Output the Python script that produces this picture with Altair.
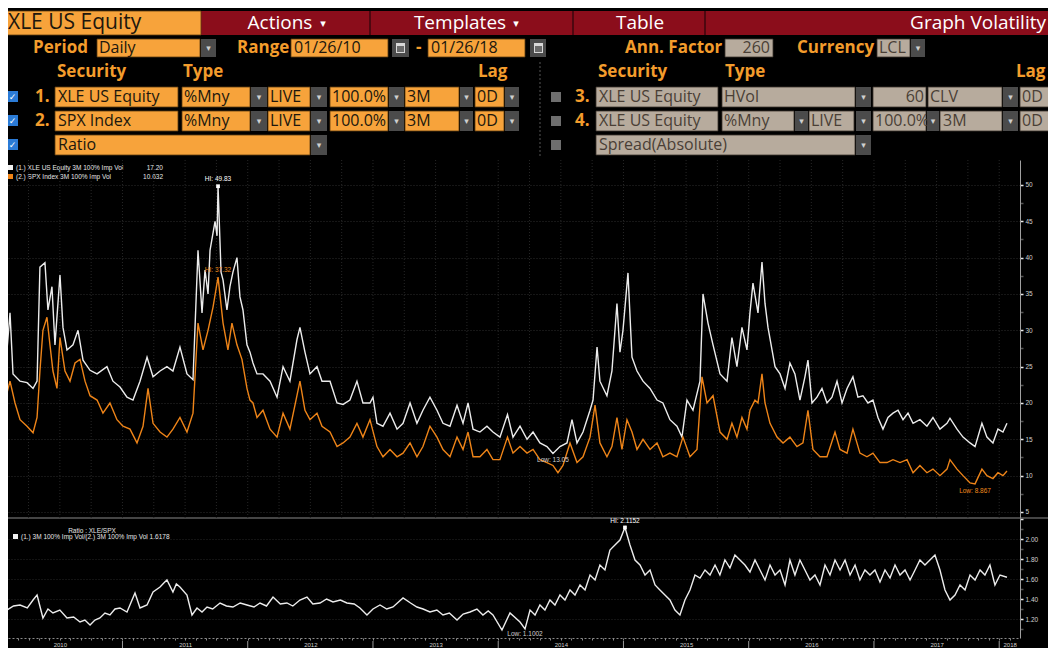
import altair as alt
import pandas as pd

# ---------------- data ----------------
# decimal year, value
xle_pts = [
 (2010.078,27.3),(2010.102,32.4),(2010.126,24.0),(2010.182,23.0),(2010.238,22.8),(2010.286,22.0),(2010.318,23.0),(2010.341,38.7),(2010.381,39.3),(2010.405,32.8),(2010.437,36.0),(2010.461,28.0),(2010.501,37.6),(2010.525,30.4),(2010.557,27.3),(2010.605,28.0),(2010.645,30.0),(2010.685,25.9),(2010.741,24.5),(2010.797,24.0),(2010.876,25.0),(2010.924,23.0),(2010.980,22.2),
 (2011.036,20.8),(2011.084,20.4),(2011.140,23.0),(2011.196,26.3),(2011.244,23.6),(2011.300,24.4),(2011.355,25.0),(2011.403,24.4),(2011.459,27.7),(2011.515,24.0),(2011.563,23.2),(2011.603,41.0),(2011.635,32.4),(2011.659,38.3),(2011.683,35.0),(2011.699,41.0),(2011.739,45.0),(2011.755,43.0),(2011.763,49.83),(2011.787,38.0),(2011.803,36.9),(2011.834,32.8),(2011.858,36.0),(2011.882,38.0),(2011.914,40.0),(2011.938,34.6),(2011.962,32.8),(2011.994,28.0),
 (2012.018,27.0),(2012.042,25.5),(2012.074,24.0),(2012.122,24.0),(2012.178,23.0),(2012.234,20.8),(2012.282,25.0),(2012.337,23.0),(2012.393,28.7),(2012.417,30.4),(2012.457,27.0),(2012.497,24.0),(2012.553,25.0),(2012.593,23.0),(2012.657,23.0),(2012.713,20.0),(2012.761,19.8),(2012.816,20.4),(2012.872,23.0),(2012.920,20.0),(2012.976,20.0),
 (2013.000,20.8),(2013.032,17.2),(2013.080,16.8),(2013.136,18.6),(2013.192,16.4),(2013.240,17.2),(2013.296,20.0),(2013.351,17.2),(2013.399,19.0),(2013.455,20.8),(2013.511,19.0),(2013.559,17.2),(2013.615,16.8),(2013.671,19.7),(2013.719,17.2),(2013.759,20.0),(2013.799,16.4),(2013.854,16.0),(2013.910,16.8),(2013.958,16.0),
 (2014.014,15.3),(2014.074,18.4),(2014.118,15.3),(2014.174,16.8),(2014.230,15.0),(2014.278,16.0),(2014.333,14.5),(2014.389,14.0),(2014.437,13.05),(2014.493,14.0),(2014.549,14.5),(2014.589,17.7),(2014.629,14.5),(2014.677,16.0),(2014.733,19.0),(2014.757,20.4),(2014.789,27.7),(2014.812,23.0),(2014.868,21.0),(2014.908,24.4),(2014.948,33.7),(2014.972,27.0),(2014.996,30.0),
 (2015.036,37.9),(2015.068,26.3),(2015.108,24.4),(2015.156,23.0),(2015.212,22.0),(2015.268,20.4),(2015.315,20.0),(2015.371,17.7),(2015.427,16.8),(2015.467,15.3),(2015.507,20.4),(2015.555,19.0),(2015.611,23.0),(2015.635,35.0),(2015.675,31.0),(2015.715,28.0),(2015.771,24.0),(2015.827,23.0),(2015.866,29.0),(2015.906,25.0),(2015.946,30.4),(2015.986,27.3),
 (2016.010,32.4),(2016.034,36.5),(2016.074,32.4),(2016.106,39.4),(2016.130,33.7),(2016.154,30.4),(2016.186,27.3),(2016.210,25.0),(2016.250,24.0),(2016.290,22.0),(2016.329,25.5),(2016.369,24.0),(2016.409,20.4),(2016.449,23.6),(2016.473,25.9),(2016.505,20.0),(2016.545,20.8),(2016.585,22.0),(2016.625,20.0),(2016.665,20.8),(2016.705,23.0),(2016.745,20.0),(2016.785,22.0),(2016.832,23.6),(2016.872,20.8),(2016.912,21.0),(2016.952,20.0),(2016.992,20.4),
 (2017.032,18.0),(2017.072,16.4),(2017.112,18.0),(2017.152,18.6),(2017.192,19.0),(2017.232,17.7),(2017.272,18.6),(2017.312,17.2),(2017.367,17.7),(2017.423,16.8),(2017.471,18.0),(2017.527,16.4),(2017.583,17.2),(2017.607,17.9),(2017.663,16.4),(2017.711,15.3),(2017.767,14.5),(2017.807,14.0),(2017.862,17.2),(2017.902,15.3),(2017.950,14.5),(2017.990,16.4),(2018.030,16.0),(2018.062,17.2),
]

spx_pts = [
 (2010.078,21.4),(2010.102,23.0),(2010.142,20.0),(2010.182,17.7),(2010.238,16.8),(2010.286,15.9),(2010.318,18.0),(2010.341,24.4),(2010.365,30.0),(2010.397,31.8),(2010.421,28.0),(2010.445,24.4),(2010.477,22.0),(2010.501,29.0),(2010.541,24.4),(2010.581,23.0),(2010.621,25.5),(2010.661,26.0),(2010.701,23.0),(2010.741,21.0),(2010.797,20.4),(2010.844,18.6),(2010.900,20.0),(2010.956,17.7),
 (2011.004,16.8),(2011.060,16.4),(2011.116,14.5),(2011.164,16.8),(2011.204,22.0),(2011.244,17.2),(2011.300,16.0),(2011.355,15.3),(2011.403,16.4),(2011.459,18.0),(2011.515,16.0),(2011.563,18.6),(2011.603,31.0),(2011.643,27.3),(2011.683,30.0),(2011.723,33.2),(2011.763,37.32),(2011.803,31.0),(2011.842,27.3),(2011.874,31.0),(2011.914,28.0),(2011.954,26.0),(2011.994,22.0),
 (2012.018,20.4),(2012.042,20.0),(2012.074,18.0),(2012.122,19.0),(2012.178,16.4),(2012.234,15.3),(2012.282,18.6),(2012.337,16.4),(2012.393,21.0),(2012.417,23.0),(2012.457,19.0),(2012.497,17.7),(2012.553,18.6),(2012.593,16.8),(2012.657,16.0),(2012.713,14.0),(2012.761,14.5),(2012.816,15.3),(2012.872,17.2),(2012.920,15.3),(2012.976,17.7),
 (2013.032,14.0),(2013.080,12.6),(2013.136,13.6),(2013.192,12.6),(2013.240,13.1),(2013.296,14.5),(2013.351,12.6),(2013.399,14.0),(2013.455,16.8),(2013.511,15.3),(2013.559,13.6),(2013.615,12.6),(2013.671,15.3),(2013.719,13.6),(2013.759,16.0),(2013.799,12.6),(2013.854,12.6),(2013.910,13.6),(2013.958,12.2),
 (2014.014,12.2),(2014.074,15.3),(2014.118,13.1),(2014.174,14.0),(2014.230,13.1),(2014.278,13.6),(2014.333,12.2),(2014.389,11.8),(2014.437,11.4),(2014.477,10.4),(2014.517,11.4),(2014.573,14.5),(2014.629,11.8),(2014.677,12.6),(2014.733,15.3),(2014.773,19.7),(2014.812,14.5),(2014.868,12.6),(2014.908,14.0),(2014.948,18.0),(2014.988,13.6),
 (2015.028,17.7),(2015.068,16.0),(2015.108,13.6),(2015.156,15.0),(2015.212,13.6),(2015.268,14.5),(2015.315,12.6),(2015.371,13.1),(2015.427,12.6),(2015.475,15.3),(2015.531,12.6),(2015.587,13.6),(2015.627,23.6),(2015.667,20.0),(2015.715,21.0),(2015.771,16.0),(2015.827,15.0),(2015.866,17.2),(2015.906,15.3),(2015.946,18.0),(2015.986,16.4),
 (2016.010,19.0),(2016.050,20.4),(2016.074,20.0),(2016.106,24.0),(2016.130,20.0),(2016.170,17.2),(2016.226,15.3),(2016.274,14.5),(2016.329,15.3),(2016.385,14.0),(2016.433,14.5),(2016.473,19.0),(2016.513,13.6),(2016.569,12.6),(2016.625,12.6),(2016.689,16.0),(2016.729,13.6),(2016.785,13.1),(2016.832,16.4),(2016.888,13.1),(2016.944,12.6),(2016.992,13.1),
 (2017.048,11.8),(2017.104,11.8),(2017.152,12.2),(2017.208,11.8),(2017.264,12.2),(2017.312,10.4),(2017.367,11.4),(2017.423,10.4),(2017.471,10.9),(2017.527,10.0),(2017.583,10.9),(2017.607,12.2),(2017.663,10.9),(2017.711,10.0),(2017.767,9.0),(2017.807,8.867),(2017.862,10.9),(2017.902,10.0),(2017.950,9.6),(2017.990,10.4),(2018.030,10.0),(2018.062,10.632),
]

ratio_pts = [
 (2010.078,1.29),(2010.130,1.33),(2010.182,1.34),(2010.240,1.31),(2010.286,1.39),(2010.318,1.44),(2010.365,1.21),(2010.405,1.30),(2010.445,1.26),(2010.500,1.29),(2010.557,1.21),(2010.610,1.22),(2010.661,1.17),(2010.700,1.19),(2010.741,1.14),(2010.780,1.19),(2010.820,1.21),(2010.860,1.26),(2010.900,1.24),(2010.940,1.30),(2010.980,1.31),
 (2011.036,1.27),(2011.100,1.46),(2011.140,1.31),(2011.196,1.34),(2011.244,1.47),(2011.300,1.52),(2011.330,1.56),(2011.355,1.59),(2011.403,1.47),(2011.430,1.55),(2011.459,1.52),(2011.515,1.44),(2011.555,1.24),(2011.595,1.31),(2011.635,1.27),(2011.675,1.32),(2011.720,1.30),(2011.779,1.36),(2011.830,1.33),(2011.882,1.32),(2011.940,1.36),(2011.994,1.34),
 (2012.050,1.32),(2012.098,1.36),(2012.150,1.33),(2012.202,1.42),(2012.260,1.35),(2012.313,1.36),(2012.360,1.33),(2012.417,1.39),(2012.473,1.42),(2012.520,1.35),(2012.577,1.36),(2012.630,1.40),(2012.681,1.37),(2012.740,1.39),(2012.792,1.36),(2012.850,1.35),(2012.896,1.31),(2012.952,1.24),
 (2013.000,1.30),(2013.056,1.34),(2013.110,1.30),(2013.160,1.32),(2013.240,1.41),(2013.300,1.36),(2013.351,1.32),(2013.400,1.30),(2013.455,1.27),(2013.510,1.29),(2013.559,1.24),(2013.610,1.26),(2013.671,1.19),(2013.720,1.25),(2013.775,1.27),(2013.830,1.30),(2013.878,1.24),(2013.920,1.28),(2013.958,1.24),
 (2014.030,1.09),(2014.094,1.26),(2014.174,1.17),(2014.214,1.1002),(2014.254,1.29),(2014.294,1.24),(2014.333,1.34),(2014.373,1.29),(2014.413,1.39),(2014.453,1.34),(2014.493,1.44),(2014.533,1.39),(2014.573,1.49),(2014.613,1.44),(2014.653,1.54),(2014.693,1.49),(2014.733,1.64),(2014.773,1.59),(2014.812,1.74),(2014.852,1.69),(2014.892,1.89),(2014.932,1.94),(2014.972,1.99),
 (2015.012,2.1152),(2015.052,1.94),(2015.092,1.79),(2015.132,1.74),(2015.172,1.64),(2015.212,1.69),(2015.252,1.54),(2015.291,1.49),(2015.331,1.44),(2015.371,1.39),(2015.411,1.29),(2015.451,1.24),(2015.491,1.39),(2015.531,1.49),(2015.571,1.64),(2015.611,1.61),(2015.651,1.69),(2015.691,1.64),(2015.731,1.74),(2015.770,1.64),(2015.810,1.79),(2015.850,1.71),(2015.890,1.84),(2015.930,1.79),(2015.970,1.74),
 (2016.010,1.67),(2016.050,1.79),(2016.090,1.69),(2016.130,1.59),(2016.170,1.74),(2016.210,1.64),(2016.250,1.69),(2016.290,1.54),(2016.329,1.79),(2016.369,1.64),(2016.409,1.79),(2016.449,1.69),(2016.489,1.59),(2016.529,1.64),(2016.569,1.54),(2016.609,1.74),(2016.649,1.64),(2016.689,1.79),(2016.729,1.69),(2016.769,1.79),(2016.809,1.64),(2016.849,1.74),(2016.888,1.59),(2016.928,1.69),(2016.968,1.64),
 (2017.008,1.69),(2017.048,1.57),(2017.088,1.69),(2017.128,1.61),(2017.168,1.74),(2017.208,1.64),(2017.248,1.69),(2017.288,1.59),(2017.328,1.69),(2017.367,1.79),(2017.407,1.74),(2017.447,1.79),(2017.487,1.84),(2017.527,1.69),(2017.567,1.49),(2017.607,1.39),(2017.647,1.44),(2017.687,1.54),(2017.727,1.49),(2017.767,1.64),(2017.807,1.59),(2017.847,1.69),(2017.886,1.64),(2017.926,1.74),(2017.966,1.54),(2018.006,1.64),(2018.062,1.6178),
]

# annotations: (t, value, text, colour)
top_above = [(2011.763, 49.83, "HI: 49.83", "#ffffff"), (2011.763, 37.32, "HI: 37.32", "#f08a1c")]
top_below = [(2014.437, 13.05, "Low: 13.05", "#cfcfcf"), (2017.807, 8.867, "Low: 8.867", "#f08a1c")]
bot_above = [(2015.012, 2.1152, "HI: 2.1152", "#ffffff")]
bot_below = [(2014.214, 1.1002, "Low: 1.1002", "#cfcfcf")]

legend_top = ["(1.) XLE US Equity 3M 100% Imp Vol", "(2.) SPX Index 3M 100% Imp Vol"]
legend_top_last = ["17.20", "10.632"]
legend_bot_title = "Ratio : XLE/SPX"
legend_bot = "(1.) 3M 100% Imp Vol/(2.) 3M 100% Imp Vol  1.6178"

xle = pd.DataFrame(xle_pts, columns=["t", "v"])
spx = pd.DataFrame(spx_pts, columns=["t", "v"])
ratio = pd.DataFrame(ratio_pts, columns=["t", "v"])

# ---------------- layout ----------------
OFF = 8
W, H = 1012, 630
UI = "Open Sans"
SMALL = "Liberation Sans"
ORANGE_BOX = "#f7a33b"
ORANGE_TXT = "#f39c2c"
DARK_TXT = "#20170d"
BEIGE = "#b7ab9d"
BEIGE_TXT = "#4a3f36"
BTN = "#4b4b4b"
MAROON = "#8b0d1b"
WHITE_LINE = "#ececec"
ORANGE_LINE = "#ee8418"


def rect_layer(rows, fill, stroke=None):
    df = pd.DataFrame([{"x": a - OFF, "x2": b - OFF, "y": c - OFF, "y2": d - OFF} for a, b, c, d in rows])
    kw = dict(fill=fill)
    if stroke:
        kw.update(stroke=stroke, strokeWidth=0.8)
    return alt.Chart(df).mark_rect(**kw).encode(
        x=alt.X("x:Q", scale=None), x2="x2:Q", y=alt.Y("y:Q", scale=None), y2="y2:Q")


def text_layer(rows, color, size, align="left", weight="normal", font=UI):
    df = pd.DataFrame([{"x": a - OFF, "y": b - OFF, "t": s} for a, b, s in rows])
    return alt.Chart(df).mark_text(align=align, baseline="middle", color=color, fontSize=size,
                                   fontWeight=weight, font=font).encode(
        x=alt.X("x:Q", scale=None), y=alt.Y("y:Q", scale=None), text="t:N")


def row(y0, y1, spans):
    return [(a, b, y0, y1) for a, b in spans]


orange_boxes = ([(5, 201, 11, 35), (97, 200, 39, 57), (291, 388, 39, 57), (428, 525, 39, 57)]
                + row(87, 107, [(55, 178), (182, 250), (268, 310), (330, 388), (405, 459), (475, 504)])
                + row(111, 131, [(55, 178), (182, 250), (268, 310), (330, 388), (405, 459), (475, 504)])
                + row(135, 155, [(55, 310)]))
beige_boxes = ([(725, 773, 39, 57), (877, 910, 39, 57)]
               + row(87, 107, [(596, 718), (722, 855), (873, 926), (928, 1002), (1020, 1050)])
               + row(111, 131, [(596, 718), (722, 794), (809, 854), (873, 926), (940, 1002), (1020, 1050)])
               + row(135, 155, [(596, 855)]))
buttons = ([(201, 216, 39, 57), (911, 925, 39, 57)]
           + row(87, 107, [(251, 267), (311, 327), (389, 404), (460, 473), (505, 519), (856, 871), (1003, 1018)])
           + row(111, 131, [(251, 267), (311, 327), (389, 404), (460, 473), (505, 519), (795, 808), (856, 871), (927, 939), (1003, 1018)])
           + row(135, 155, [(311, 327), (856, 871)]))
cal_btns = [(392, 409, 39, 57), (530, 546, 39, 57)]
cal_icons = [(396, 405, 43, 53), (534, 543, 43, 53)]
cal_inner = [(397, 404, 46, 52), (535, 542, 46, 52)]
maroon_bar = [(201, 1057, 11, 35)]
maroon_sep = [(369, 371, 11, 35), (572, 574, 11, 35), (704, 706, 11, 35)]
blue_chk = [(7, 18, 91, 102), (7, 18, 115, 126), (7, 18, 139, 150)]
gray_chk = [(551, 561, 92, 102), (551, 561, 116, 126), (551, 561, 140, 150)]
legend_sq_white = [(8, 13, 165, 170), (13, 18, 534, 539)]
legend_sq_orange = [(8, 13, 174, 179)]

btn_glyphs = [((a + b) / 2, (c + d) / 2, "▾") for a, b, c, d in buttons]
chk_glyphs = [((a + b) / 2, (c + d) / 2, "✓") for a, b, c, d in blue_chk]

header = [
    rect_layer(maroon_bar, MAROON),
    rect_layer(maroon_sep, "#4e0710"),
    rect_layer(orange_boxes, ORANGE_BOX, stroke="#5a3a10"),
    rect_layer(beige_boxes, BEIGE, stroke="#3a332c"),
    rect_layer(buttons + cal_btns, BTN),
    rect_layer(cal_icons, "#d8d8d8"),
    rect_layer(cal_inner, "#6a6a6a"),
    rect_layer(blue_chk, "#2b7bd6"),
    rect_layer(gray_chk, "#6e6e6e"),
    rect_layer(legend_sq_white, "#f2f2f2"),
    rect_layer(legend_sq_orange, ORANGE_LINE),
    text_layer(btn_glyphs, "#cfcfcf", 9, align="center", font="DejaVu Sans"),
    text_layer(chk_glyphs, "#ffffff", 9, align="center", weight="bold", font="DejaVu Sans"),
    text_layer([(8, 23, "XLE US Equity")], DARK_TXT, 21),
    text_layer([(280, 23, "Actions"), (460, 23, "Templates"), (640, 23, "Table")], "#ffffff", 19, align="center"),
    text_layer([(323, 24, "▾"), (516, 24, "▾")], "#ffffff", 11, align="center", font="DejaVu Sans"),
    text_layer([(1046, 23, "Graph Volatility")], "#ffffff", 19, align="right"),
    text_layer([(33, 48, "Period"), (237, 48, "Range"), (416, 48, "-"), (625, 48, "Ann. Factor"), (797, 48, "Currency"),
                (57, 72, "Security"), (183, 72, "Type"), (478, 72, "Lag"), (598, 72, "Security"), (725, 72, "Type"), (1016, 72, "Lag"),
                (35, 97, "1."), (575, 97, "3."), (35, 121, "2."), (575, 121, "4.")], ORANGE_TXT, 17, weight="bold"),
    text_layer([(99, 48, "Daily"), (294, 48, "01/26/10"), (431, 48, "01/26/18"),
                (58, 97, "XLE US Equity"), (184, 97, "%Mny"), (270, 97, "LIVE"), (332, 97, "100.0%"), (407, 97, "3M"), (477, 97, "0D"),
                (58, 121, "SPX Index"), (184, 121, "%Mny"), (270, 121, "LIVE"), (332, 121, "100.0%"), (407, 121, "3M"), (477, 121, "0D"),
                (58, 145, "Ratio")], DARK_TXT, 16),
    text_layer([(879, 48, "LCL"), (599, 97, "XLE US Equity"), (724, 97, "HVol"), (930, 97, "CLV"), (1022, 97, "0D"),
                (599, 121, "XLE US Equity"), (724, 121, "%Mny"), (811, 121, "LIVE"), (875, 121, "100.0%"), (943, 121, "3M"), (1022, 121, "0D"),
                (599, 145, "Spread(Absolute)")], BEIGE_TXT, 16),
    text_layer([(770, 48, "260"), (924, 97, "60")], BEIGE_TXT, 16, align="right"),
    text_layer([(16, 168, legend_top[0]), (16, 177, legend_top[1]), (21, 537, legend_bot)], "#e6e6e6", 6.5, font=SMALL),
    text_layer([(163, 168, legend_top_last[0]), (163, 177, legend_top_last[1])], "#e6e6e6", 6.5, align="right", font=SMALL),
    text_layer([(92, 531, legend_bot_title)], "#e6e6e6", 6.5, align="center", font=SMALL),
    alt.Chart(pd.DataFrame({"k": [0]})).mark_rule(color="#555555", strokeDash=[2, 2]).encode(
        x=alt.value(540 - OFF), y=alt.value(62 - OFF), y2=alt.value(157 - OFF)),
    alt.Chart(pd.DataFrame({"k": [0]})).mark_rule(color="#8a8a8a", strokeWidth=1).encode(
        x=alt.value(0), x2=alt.value(1040), y=alt.value(518 - OFF)),
]

# ---------------- scales & axes ----------------
xs = alt.Scale(domain=[2010.086, 2018.166], nice=False, zero=False)
ys_top = alt.Scale(domain=[4.17, 53.44], range=[510, 152], nice=False, zero=False)
ys_bot = alt.Scale(domain=[1.01, 2.21], range=[630, 510], nice=False, zero=False)

month_ticks = [round(y + m / 12, 4) for y in range(2010, 2019) for m in range(12) if 2010.09 < y + m / 12 < 2018.16]
quarters = [y + q / 4 for y in range(2010, 2019) for q in range(4) if 2010.09 < y + q / 4 < 2018.16]
year_starts = [y for y in range(2011, 2019)]

XAX = alt.Axis(values=month_ticks,
               labelExpr="(abs(datum.value - floor(datum.value) - 0.5) < 0.01 || abs(datum.value - 2018.0833) < 0.01) ? format(floor(datum.value), 'd') : ''",
               tickSize=2, tickColor="#8a8a8a", domainColor="#8a8a8a", domainDash=[2, 2],
               labelColor="#cfcfcf", labelFontSize=6, labelFont=SMALL, labelPadding=1,
               labelOverlap=False, labelFlush=False, grid=False, title=None)

top_vals = [5 + 2.5 * i for i in range(19)]
YAX_TOP = alt.Axis(orient="right", values=top_vals,
                   labelExpr="datum.value % 5 == 0 ? format(datum.value, 'd') : ''",
                   tickSize=3, tickWidth=1.5,
                   tickColor={"condition": {"test": "datum.value % 5 != 0", "value": "#555555"}, "value": "#e6e6e6"},
                   domainColor="#a0a0a0", grid=True,
                   gridColor={"condition": {"test": "datum.value % 5 != 0", "value": "transparent"}, "value": "#2c2c2c"},
                   gridDash=[1, 2], labelColor="#d0d0d0", labelFontSize=6.5, labelFont=SMALL,
                   labelPadding=2, labelOverlap=False, title=None)

bot_vals = [round(1.1 + 0.1 * i, 1) for i in range(12)]
YAX_BOT = alt.Axis(orient="right", values=bot_vals,
                   labelExpr="(round(datum.value * 10) % 2 == 0 && datum.value < 2.1) ? format(datum.value, '.2f') : ''",
                   tickSize=3, tickWidth=1.5,
                   tickColor={"condition": {"test": "round(datum.value * 10) % 2 != 0", "value": "#555555"}, "value": "#e6e6e6"},
                   domainColor="#a0a0a0", grid=True,
                   gridColor={"condition": {"test": "round(datum.value * 10) % 2 != 0 || datum.value > 2.1", "value": "transparent"}, "value": "#262626"},
                   gridDash=[1, 2], labelColor="#d0d0d0", labelFontSize=6.5, labelFont=SMALL,
                   labelPadding=2, labelOverlap=False, title=None)


def ann_df(rows):
    return pd.DataFrame(rows, columns=["t", "v", "label", "c"])


def ann_layer(rows, yscale, yaxis, baseline, dy):
    return alt.Chart(ann_df(rows)).mark_text(baseline=baseline, dy=dy, fontSize=6.5, font=SMALL, align="center").encode(
        x=alt.X("t:Q", scale=xs, axis=XAX), y=alt.Y("v:Q", scale=yscale, axis=yaxis),
        text="label:N", color=alt.Color("c:N", scale=None))


vgrid = alt.Chart(pd.DataFrame({"t": quarters})).mark_rule(color="#262626", strokeDash=[1, 2]).encode(
    x=alt.X("t:Q", scale=xs, axis=XAX), y=alt.value(152), y2=alt.value(510))

top_group = alt.layer(
    vgrid,
    alt.Chart(xle).mark_line(color=WHITE_LINE, strokeWidth=1.4).encode(
        x=alt.X("t:Q", scale=xs, axis=XAX), y=alt.Y("v:Q", scale=ys_top, axis=YAX_TOP)),
    alt.Chart(spx).mark_line(color=ORANGE_LINE, strokeWidth=1.4).encode(
        x=alt.X("t:Q", scale=xs, axis=XAX), y=alt.Y("v:Q", scale=ys_top, axis=YAX_TOP)),
    alt.Chart(ann_df(top_above[:1])).mark_square(size=14, color="#ffffff", opacity=1).encode(
        x=alt.X("t:Q", scale=xs, axis=XAX), y=alt.Y("v:Q", scale=ys_top, axis=YAX_TOP)),
    ann_layer(top_above, ys_top, YAX_TOP, "bottom", -4),
    ann_layer(top_below, ys_top, YAX_TOP, "top", 4),
)

year_sep = alt.Chart(pd.DataFrame({"t": year_starts})).mark_rule(color="#9a9a9a").encode(
    x=alt.X("t:Q", scale=xs, axis=XAX), y=alt.value(633), y2=alt.value(640))

bottom_group = alt.layer(
    alt.Chart(ratio).mark_line(color=WHITE_LINE, strokeWidth=1.4).encode(
        x=alt.X("t:Q", scale=xs, axis=XAX), y=alt.Y("v:Q", scale=ys_bot, axis=YAX_BOT)),
    alt.Chart(ann_df(bot_above)).mark_square(size=14, color="#ffffff", opacity=1).encode(
        x=alt.X("t:Q", scale=xs, axis=XAX), y=alt.Y("v:Q", scale=ys_bot, axis=YAX_BOT)),
    ann_layer(bot_above, ys_bot, YAX_BOT, "bottom", -3),
    ann_layer(bot_below, ys_bot, YAX_BOT, "top", 2),
    year_sep,
)

chart = alt.layer(*header, top_group, bottom_group).resolve_scale(y="independent").properties(
    width=W, height=H,
    padding={"left": 0, "top": 0, "right": 28, "bottom": 10},
    autosize=alt.AutoSizeParams(type="none"),
    background="#000000",
).configure_view(stroke=None)

chart.save("out.html", embed_options={"renderer": "svg", "actions": False})
